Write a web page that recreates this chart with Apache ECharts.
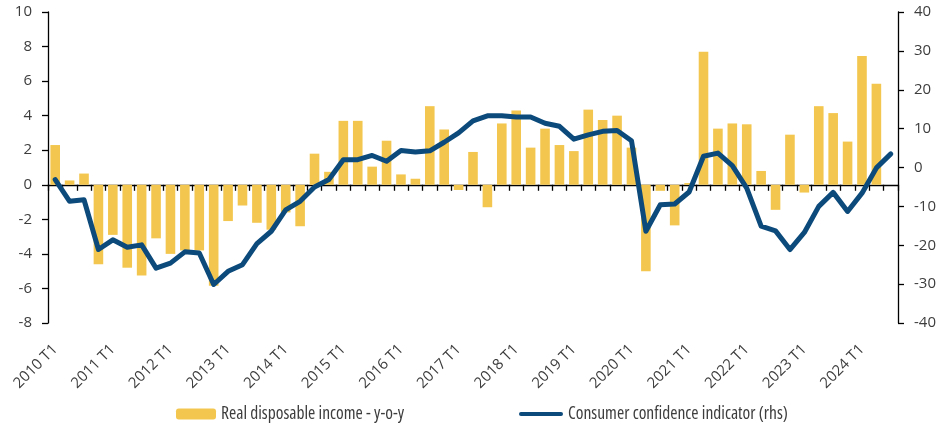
<!DOCTYPE html>
<html>
<head>
<meta charset="utf-8">
<script src="https://cdn.jsdelivr.net/npm/echarts@6/dist/echarts.min.js"></script>
<style>
html,body{margin:0;padding:0;background:#fff;}
#chart{width:945px;height:426px;}
</style>
</head>
<body>
<div id="chart"></div>
<script>
var categories = [
 '2010 T1','2010 T2','2010 T3','2010 T4',
 '2011 T1','2011 T2','2011 T3','2011 T4',
 '2012 T1','2012 T2','2012 T3','2012 T4',
 '2013 T1','2013 T2','2013 T3','2013 T4',
 '2014 T1','2014 T2','2014 T3','2014 T4',
 '2015 T1','2015 T2','2015 T3','2015 T4',
 '2016 T1','2016 T2','2016 T3','2016 T4',
 '2017 T1','2017 T2','2017 T3','2017 T4',
 '2018 T1','2018 T2','2018 T3','2018 T4',
 '2019 T1','2019 T2','2019 T3','2019 T4',
 '2020 T1','2020 T2','2020 T3','2020 T4',
 '2021 T1','2021 T2','2021 T3','2021 T4',
 '2022 T1','2022 T2','2022 T3','2022 T4',
 '2023 T1','2023 T2','2023 T3','2023 T4',
 '2024 T1','2024 T2','2024 T3'
];
var incomeName = 'Real disposable income - y-o-y';
var confidenceName = 'Consumer confidence indicator (rhs)';
var income = [
 2.3, 0.25, 0.65, -4.6, -2.9, -4.8, -5.25, -3.1, -4.0, -3.8,
 -3.8, -5.85, -2.1, -1.2, -2.2, -2.6, -1.6, -2.4, 1.8, 0.75,
 3.7, 3.7, 1.05, 2.55, 0.6, 0.35, 4.55, 3.2, -0.3, 1.9,
 -1.3, 3.55, 4.3, 2.15, 3.25, 2.3, 1.95, 4.35, 3.75, 4.0,
 2.15, -5.0, -0.35, -2.35, 0.1, 7.7, 3.25, 3.55, 3.5, 0.8,
 -1.45, 2.9, -0.45, 4.55, 4.15, 2.5, 7.45, 5.85, null
];
var confidence = [
 -3.1, -8.7, -8.3, -21.1, -18.6, -20.5, -19.9, -25.9, -24.6, -21.7,
 -22.0, -30.1, -26.7, -25.0, -19.6, -16.4, -10.9, -8.7, -5.0, -3.1,
 2.0, 2.0, 3.1, 1.6, 4.4, 4.0, 4.3, 6.5, 8.9, 12.0,
 13.3, 13.3, 13.0, 13.0, 11.4, 10.6, 7.3, 8.4, 9.3, 9.5,
 6.9, -16.4, -9.6, -9.4, -6.3, 2.9, 3.7, 0.5, -5.3, -15.1,
 -16.3, -21.1, -16.7, -10.0, -6.4, -11.3, -6.6, -0.1, 3.5
];

var axisFont = '"Open Sans", sans-serif';
var legendFont = '"Open Sans", sans-serif';
var textColor = '#3d3d3d';
var lineColor = '#0b4a7b';

var legendText = {fontFamily: legendFont, fontWeight: 'condensed', fontSize: 17.5, color: textColor, lineHeight: 18};

var chart = echarts.init(document.getElementById('chart'), null, {renderer: 'canvas'});
chart.setOption({
  animation: false,
  backgroundColor: '#ffffff',
  grid: {left: 48, right: 47, top: 12, height: 311, containLabel: false},
  legend: [{
    data: [incomeName],
    left: 176, top: 405, padding: 0,
    itemWidth: 40, itemHeight: 11,
    textStyle: legendText
  }, {
    data: [{name: confidenceName, icon: 'path://M2,0 L43,0 A2,2 0 0 1 43,4 L2,4 A2,2 0 0 1 2,0 Z'}],
    left: 519, top: 405, padding: 0,
    itemWidth: 44, itemHeight: 11,
    symbolKeepAspect: true,
    textStyle: legendText
  }],
  xAxis: [{
    type: 'category',
    data: categories,
    position: 'bottom',
    boundaryGap: true,
    axisLine: {show: false, onZero: false},
    axisTick: {show: false},
    axisLabel: {
      interval: 3, rotate: 45, margin: 24,
      fontFamily: axisFont, fontSize: 15, color: textColor
    },
    splitLine: {show: false}
  }, {
    type: 'category',
    data: categories,
    position: 'bottom',
    boundaryGap: true,
    axisLine: {show: true, onZero: true, onZeroAxisIndex: 0, lineStyle: {color: '#000', width: 1.3}},
    axisTick: {show: true, interval: 0, length: 6, lineStyle: {color: '#000', width: 1.3}},
    axisLabel: {show: false},
    splitLine: {show: false}
  }],
  yAxis: [{
    type: 'value',
    position: 'left',
    min: -8, max: 10, interval: 2,
    axisLine: {show: true, onZero: false, lineStyle: {color: '#000', width: 1.3}},
    axisTick: {show: true, length: 6, lineStyle: {color: '#000', width: 1.3}},
    axisLabel: {margin: 16, fontFamily: axisFont, fontSize: 15, color: textColor},
    splitLine: {show: false}
  }, {
    type: 'value',
    position: 'right',
    min: -40, max: 40, interval: 10,
    axisLine: {show: true, onZero: false, lineStyle: {color: '#000', width: 1.3}},
    axisTick: {show: true, length: 6, lineStyle: {color: '#000', width: 1.3}},
    axisLabel: {margin: 16, fontFamily: axisFont, fontSize: 15, color: textColor},
    splitLine: {show: false}
  }],
  series: [{
    name: incomeName,
    type: 'bar',
    xAxisIndex: 0, yAxisIndex: 0,
    data: income,
    barWidth: 9.6,
    itemStyle: {color: '#f3c74f'}
  }, {
    name: confidenceName,
    type: 'line',
    xAxisIndex: 0, yAxisIndex: 1,
    data: confidence,
    symbol: 'none',
    showSymbol: false,
    lineStyle: {color: lineColor, width: 5, cap: 'round', join: 'round'},
    itemStyle: {color: lineColor},
    z: 5
  }]
});
</script>
</body>
</html>
